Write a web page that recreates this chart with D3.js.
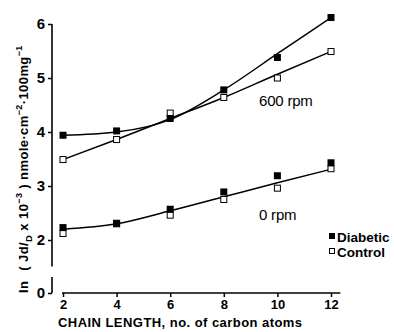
<!DOCTYPE html>
<html><head><meta charset="utf-8">
<script src="https://cdn.jsdelivr.net/npm/d3@7"></script>
<style>body{margin:0;background:#fff}svg{display:block}text{font-family:"Liberation Sans",Arial,sans-serif;fill:#000}</style>
</head><body><svg id="c" width="394" height="332"></svg>
<script>
const chainLength = [2, 4, 6, 8, 10, 12];
const diabetic600 = [3.94, 4.02, 4.25, 4.78, 5.38, 6.12];
const control600  = [3.49, 3.86, 4.35, 4.64, 5.00, 5.49];
const diabetic0   = [2.23, 2.31, 2.57, 2.89, 3.19, 3.43];
const control0    = [2.12, 2.30, 2.46, 2.75, 2.96, 3.32];
const fitDiabetic600 = [3.94, 4.00, 4.23, 4.78, 5.45, 6.12];
const fitControl600  = [3.49, 3.86, 4.25, 4.64, 5.07, 5.49];
const fit0rpm        = [2.20, 2.30, 2.54, 2.80, 3.06, 3.31];
const yTicks = [0, 2, 3, 4, 5, 6];
const xTicks = [2, 4, 6, 8, 10, 12];

const svg = d3.select("#c");
const x = d3.scaleLinear().domain([2, 12]).range([63, 331]);
const y = d3.scaleLinear().domain([0, 2, 6]).range([293, 240, 24]);
const axX = 52;

// Y axis
const gy = svg.append("g").attr("transform", `translate(${axX},0)`)
  .call(d3.axisLeft(y).tickValues(yTicks).tickSize(4).tickPadding(3).tickFormat(d3.format("d")));
gy.select(".domain").remove();
gy.selectAll("line").attr("stroke", "#000").attr("stroke-width", 1.5);
gy.selectAll("text").attr("font-size", 15).attr("font-weight", "bold");
svg.append("line").attr("x1", axX).attr("x2", axX).attr("y1", y(6)).attr("y2", y(1.0))
  .attr("stroke", "#000").attr("stroke-width", 1.6);
svg.append("line").attr("x1", axX).attr("x2", axX).attr("y1", y(0.6)).attr("y2", y(0))
  .attr("stroke", "#000").attr("stroke-width", 1.6);

// X axis
const gx = svg.append("g").attr("transform", `translate(0,${y(0)})`)
  .call(d3.axisBottom(x).tickValues(xTicks).tickSize(4).tickPadding(3).tickFormat(d3.format("d")));
gx.select(".domain").remove();
gx.selectAll("line").attr("stroke", "#000").attr("stroke-width", 1.5);
gx.selectAll("text").attr("font-size", 13).attr("font-weight", "bold");
svg.append("line").attr("x1", x(2) - 1).attr("x2", x(12.35)).attr("y1", y(0)).attr("y2", y(0))
  .attr("stroke", "#000").attr("stroke-width", 1.6);

// Axis titles
const xt = svg.append("text").attr("x", 58).attr("y", 327).attr("font-size", 13)
  .attr("letter-spacing", 0.45).attr("font-weight", "bold");
xt.append("tspan").text("CHAIN LENGTH,");
xt.append("tspan").text(" no. of carbon atoms");

const yt = svg.append("text").attr("transform", "translate(28,293) rotate(-90)")
  .attr("font-size", 13).attr("font-weight", "bold").attr("letter-spacing", 0.4);
yt.append("tspan").text("In");
yt.append("tspan").attr("dx", 10).text("( Jd/");
yt.append("tspan").attr("font-size", 9.5).attr("dy", 4).text("D");
yt.append("tspan").attr("dy", -4).text(" x 10");
yt.append("tspan").attr("font-size", 9).attr("dy", -6).text("−3");
yt.append("tspan").attr("dy", 6).text(" ) nmole·cm");
yt.append("tspan").attr("font-size", 9).attr("dy", -6).text("−2");
yt.append("tspan").attr("dy", 6).text("·100mg");
yt.append("tspan").attr("font-size", 9).attr("dy", -6).text("−1");

// Fitted lines
const line = d3.line().x(d => x(d[0])).y(d => y(d[1])).curve(d3.curveMonotoneX);
[fitDiabetic600, fitControl600, fit0rpm].forEach(arr => {
  svg.append("path").attr("d", line(chainLength.map((c, i) => [c, arr[i]])))
    .attr("fill", "none").attr("stroke", "#000").attr("stroke-width", 1.5);
});

// Points
function filled(arr) {
  svg.append("g").selectAll("rect").data(chainLength).join("rect")
    .attr("x", (d) => x(d) - 3.5).attr("y", (d, i) => y(arr[i]) - 3.5)
    .attr("width", 7).attr("height", 7).attr("fill", "#000");
}
function open(arr) {
  svg.append("g").selectAll("rect").data(chainLength).join("rect")
    .attr("x", (d) => x(d) - 3).attr("y", (d, i) => y(arr[i]) - 3)
    .attr("width", 6).attr("height", 6).attr("fill", "#fff").attr("stroke", "#000").attr("stroke-width", 1);
}
open(control600); filled(diabetic600);
open(control0); filled(diabetic0);

// Labels
svg.append("text").attr("x", 259).attr("y", 106).attr("font-size", 15).attr("letter-spacing", -0.2).text("600 rpm");
svg.append("text").attr("x", 259).attr("y", 220).attr("font-size", 15).attr("letter-spacing", -0.2).text("0 rpm");

// Legend
svg.append("rect").attr("x", 329).attr("y", 233).attr("width", 6).attr("height", 6).attr("fill", "#000");
svg.append("text").attr("x", 337).attr("y", 241.5).attr("font-size", 13.5).attr("font-weight", "bold").text("Diabetic");
svg.append("rect").attr("x", 329.5).attr("y", 248.5).attr("width", 5).attr("height", 5).attr("fill", "#fff").attr("stroke", "#000").attr("stroke-width", 1);
svg.append("text").attr("x", 337).attr("y", 256.5).attr("font-size", 13.5).attr("font-weight", "bold").text("Control");
</script></body></html>
